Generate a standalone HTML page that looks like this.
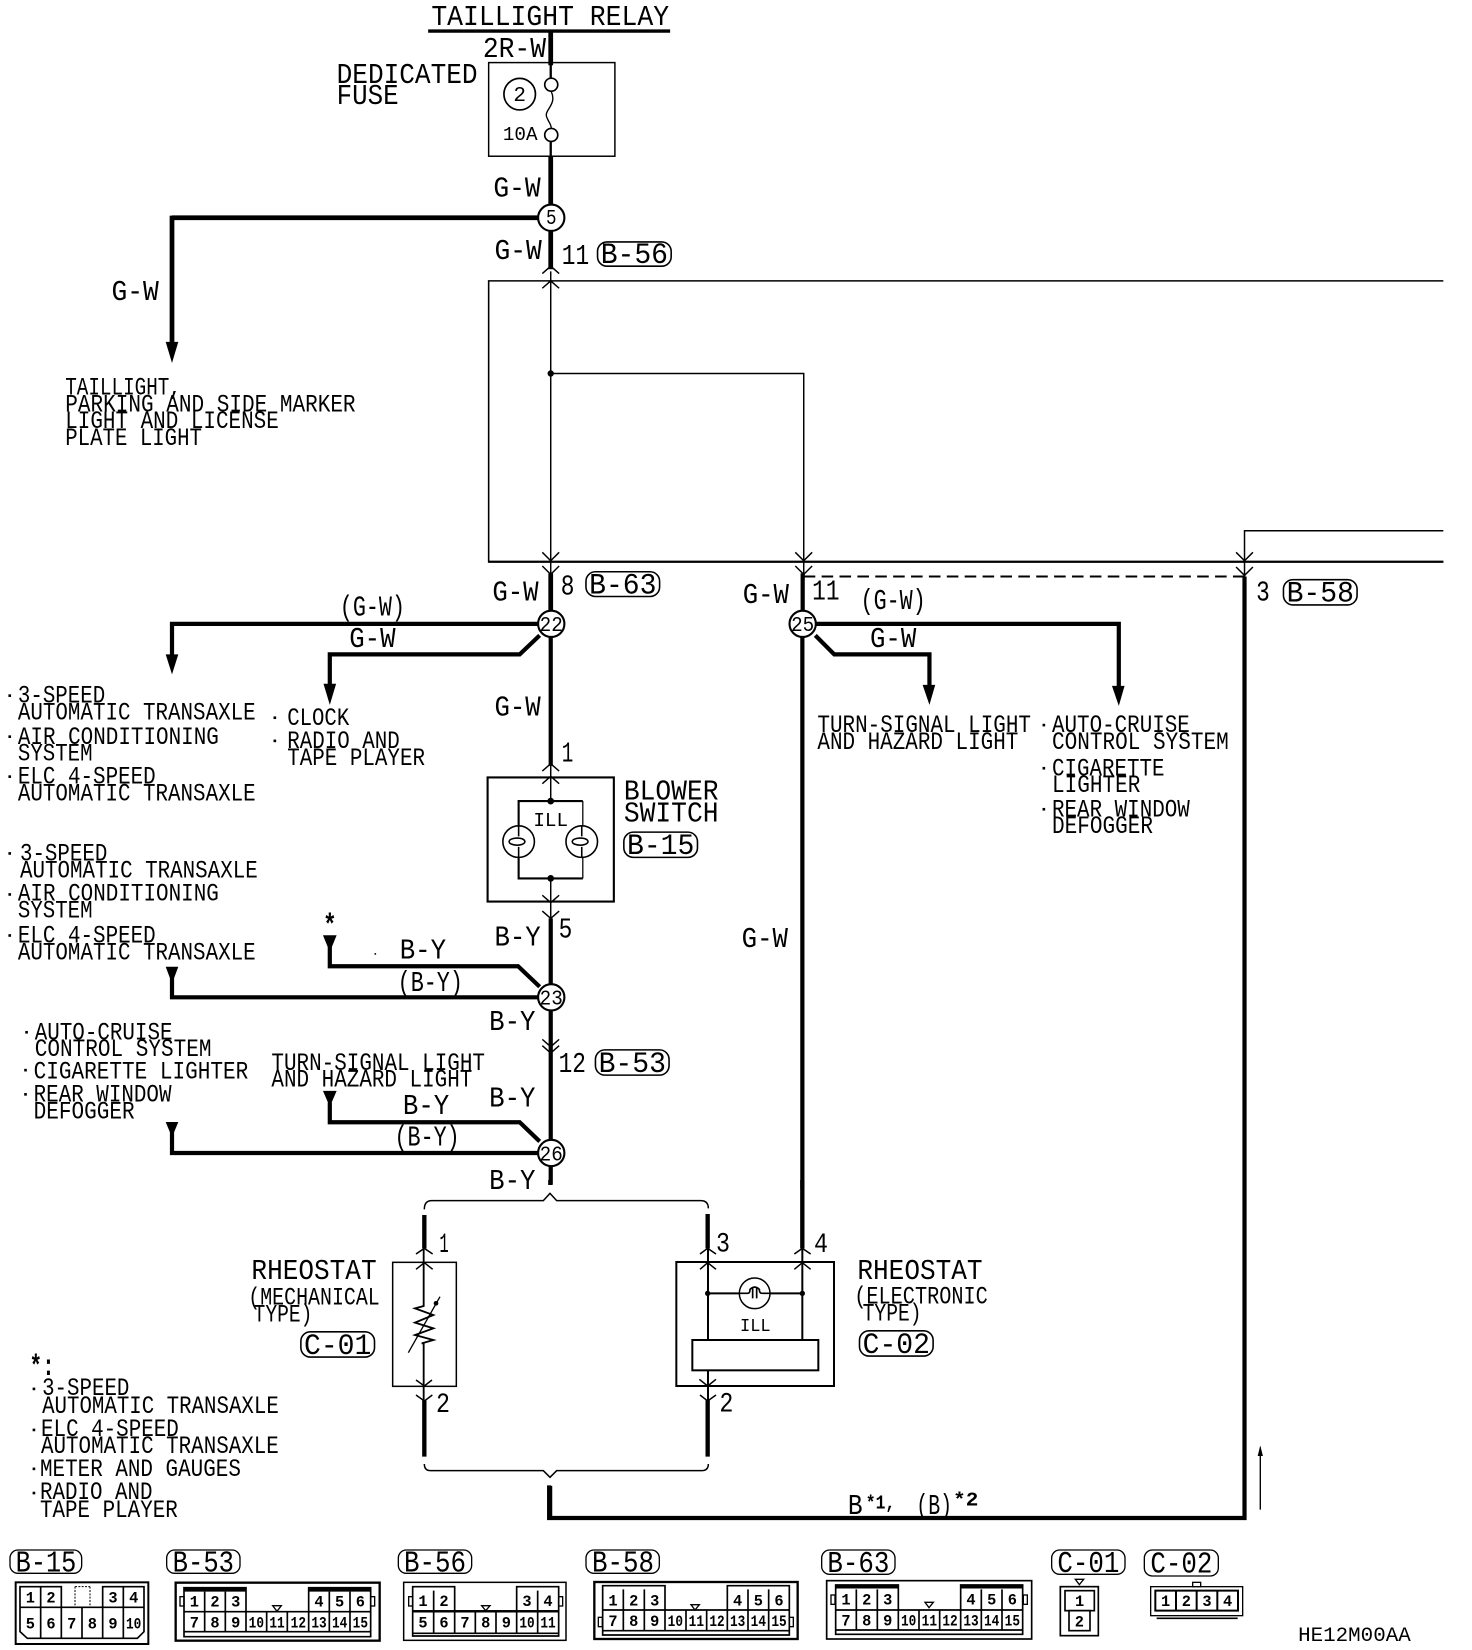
<!DOCTYPE html>
<html><head><meta charset="utf-8"><style>
html,body{margin:0;padding:0;background:#fff}
svg{display:block}
text{font-family:"Liberation Mono",monospace;fill:#000}
.t text{font-size:23.5px}
.b text{font-size:27px}
.p text{font-size:28px}
.n text{font-size:20px}
</style></head><body>
<svg xmlns="http://www.w3.org/2000/svg" width="1472" height="1650" viewBox="0 0 1472 1650">
<rect width="1472" height="1650" fill="#fff"/>
<g transform="scale(1.052)">
<g fill="none" stroke="#000" stroke-linejoin="miter">
<!-- title -->
<path d="M407 29.5H637" stroke-width="3.2"/>
<path d="M523.5 30V62M523.5 149V196M523.5 220V256M523.5 545V581M163.5 207H512M163.5 205V326" stroke-width="4.5"/>
<rect x="464.5" y="59.5" width="120" height="89" stroke-width="1.4"/>
<path d="M523.5 60V74M523.5 134V149" stroke-width="2.2"/>
<circle cx="524" cy="80.5" r="6.2" stroke-width="1.6"/><circle cx="524" cy="128.3" r="6.2" stroke-width="1.6"/>
<path d="M524 87C530 100 516 105 520 112C522 117 524 118 524 122" stroke-width="1.3"/>
<circle cx="494" cy="89.5" r="15" stroke-width="1.6"/>
<!-- big rect -->
<path d="M1372 267H464.5V534H1372" stroke-width="1.5"/>
<path d="M464 534H1372" stroke-width="2.2"/>
<path d="M523.5 258V546M523.5 355H764V546M1183 548V504.5H1372" stroke-width="1.4"/>
<path d="M515.5 260L523.5 253L531.5 260M515.5 274L523.5 267L531.5 274" stroke-width="1.4"/>
<path d="M515.5 525L523.5 533L531.5 525M515.5 538L523.5 546L531.5 538M756 525L764 533L772 525M756 538L764 546L772 538M1175 525L1183 533L1191 525M1175 539L1183 547L1191 539" stroke-width="1.4"/>
<path d="M764 548H1183" stroke-width="2" stroke-dasharray="11 6"/>
<!-- 22 branches -->
<path d="M523.5 606V728M163.5 593H512M163.5 591V624M513 604L494 622H313.5V652" stroke-width="4"/>
<!-- 25 branches -->
<path d="M763 545V581M762.7 606V1130M775 593H1063.5V654M775 604L793 622H883.5V652" stroke-width="4"/>
<!-- blower -->
<path d="M515.5 733L523.5 726L531.5 733M515.5 745L523.5 738L531.5 745" stroke-width="1.4"/>
<path d="M523.5 726V761M523.5 835V873" stroke-width="1.4"/>
<rect x="463.5" y="739" width="120" height="118" stroke-width="2"/>
<path d="M493 785V761.5H554M493 815V835H554" stroke-width="2"/>
<path d="M554 761.5V835" stroke-width="1.2"/>
<circle cx="493" cy="800" r="15" fill="#fff" stroke-width="1.5"/><circle cx="553" cy="800" r="15" fill="#fff" stroke-width="1.5"/>
<path d="M484 800C484 796 498 795 499 800C498 805 484 804 484 800ZM493 785V795M493 805V815M544 800C544 796 558 795 559 800C558 805 544 804 544 800ZM553 785V795M553 805V815" stroke-width="1.5"/>
<path d="M515.5 851L523.5 858L531.5 851M515.5 866L523.5 873L531.5 866" stroke-width="1.4"/>
<!-- B-Y -->
<path d="M523.5 873V935M523.5 961V1084M523.5 1109V1126M163.5 948H512M163.5 928V950M313.5 900V918.5H492.5L513 938M313.5 1048V1066.8H494L513 1085M163.5 1075V1096H512" stroke-width="4"/>
<path d="M515.5 988L523.5 995L531.5 988M515.5 994L523.5 1001L531.5 994" stroke-width="1.4"/>
<!-- bottom / right -->
<path d="M522 1412V1443H1183V548" stroke-width="4"/>
<path d="M1198 1376V1435" stroke-width="1.3"/>
<!-- node circles -->
<g fill="#fff" stroke-width="2">
<circle cx="524" cy="207" r="12.5"/><circle cx="524" cy="593" r="12.5"/><circle cx="763" cy="593" r="12.5"/><circle cx="524" cy="948" r="12.5"/><circle cx="524" cy="1096" r="12.5"/>
</g>
<!-- pills -->
<g stroke-width="1.5">
<rect x="568" y="230" width="70" height="23" rx="9"/>
<rect x="557" y="543.5" width="70" height="23.5" rx="9"/>
<rect x="1220" y="551" width="70" height="24" rx="9"/>
<rect x="593" y="791" width="70" height="24" rx="9"/>
<rect x="566" y="998" width="70" height="24" rx="9"/>
<rect x="286" y="1266" width="70" height="24" rx="9"/>
<rect x="817" y="1265" width="70" height="24" rx="9"/>
</g>
</g>
<!-- junction dots -->
<g fill="#000">
<circle cx="523.5" cy="355" r="3"/><circle cx="523.5" cy="761.5" r="3.2"/><circle cx="523.5" cy="835" r="3.2"/>
<rect x="356" y="906" width="1.5" height="1.5"/>
</g>
<!-- arrowheads -->
<g fill="#000">
<path d="M157.5 325H169.5L163.5 345Z"/>
<path d="M157.5 622H169.5L163.5 641Z"/>
<path d="M307.5 650H319.5L313.5 670Z"/>
<path d="M877 651H889L883.5 670Z"/>
<path d="M1057 652H1069L1063.5 671Z"/>
<path d="M157.5 919H169.5L163.5 935Z"/>
<path d="M307 889H320L313.5 905Z"/>
<path d="M307 1037H320L313.5 1052Z"/>
<path d="M157.5 1066.5H169.5L163.5 1081Z"/>
<path d="M1198 1374L1195.5 1384H1200.5Z"/>
</g>
<!-- bullets -->
<g fill="#000">
<rect x="8" y="660" width="2.5" height="2.5"/><rect x="8" y="699" width="2.5" height="2.5"/><rect x="8" y="737" width="2.5" height="2.5"/>
<rect x="8" y="810" width="2.5" height="2.5"/><rect x="8" y="849" width="2.5" height="2.5"/><rect x="8" y="888" width="2.5" height="2.5"/>
<rect x="260" y="681" width="2.5" height="2.5"/><rect x="260" y="703" width="2.5" height="2.5"/>
<rect x="991" y="688" width="2.5" height="2.5"/><rect x="991" y="729" width="2.5" height="2.5"/><rect x="991" y="768" width="2.5" height="2.5"/>
<rect x="24" y="980" width="2.5" height="2.5"/><rect x="23" y="1016" width="2.5" height="2.5"/><rect x="23" y="1039" width="2.5" height="2.5"/>
<rect x="31" y="1319" width="2.5" height="2.5"/><rect x="31" y="1358" width="2.5" height="2.5"/><rect x="31" y="1395" width="2.5" height="2.5"/><rect x="31" y="1418" width="2.5" height="2.5"/>
</g>
<!-- labels -->
<g class="b">
<text x="410" y="24" textLength="226" lengthAdjust="spacingAndGlyphs">TAILLIGHT RELAY</text>
<text x="459" y="54" textLength="60" lengthAdjust="spacingAndGlyphs">2R-W</text>
<text x="320" y="79" textLength="134" lengthAdjust="spacingAndGlyphs">DEDICATED</text>
<text x="320" y="99" textLength="59" lengthAdjust="spacingAndGlyphs">FUSE</text>
<text x="469" y="187" textLength="45" lengthAdjust="spacingAndGlyphs">G-W</text>
<text x="470" y="246" textLength="45" lengthAdjust="spacingAndGlyphs">G-W</text>
<text x="534" y="251" textLength="26" lengthAdjust="spacingAndGlyphs">11</text>
<text x="106" y="285" textLength="45" lengthAdjust="spacingAndGlyphs">G-W</text>
<text x="468" y="571" textLength="44" lengthAdjust="spacingAndGlyphs">G-W</text>
<text x="533" y="565" textLength="13" lengthAdjust="spacingAndGlyphs">8</text>
<text x="706" y="573" textLength="44" lengthAdjust="spacingAndGlyphs">G-W</text>
<text x="772" y="570" textLength="26" lengthAdjust="spacingAndGlyphs">11</text>
<text x="1194" y="571" textLength="13" lengthAdjust="spacingAndGlyphs">3</text>
<text x="323" y="585" textLength="62" lengthAdjust="spacingAndGlyphs">(G-W)</text>
<text x="332" y="615" textLength="44" lengthAdjust="spacingAndGlyphs">G-W</text>
<text x="818" y="579" textLength="62" lengthAdjust="spacingAndGlyphs">(G-W)</text>
<text x="827" y="615" textLength="44" lengthAdjust="spacingAndGlyphs">G-W</text>
<text x="470" y="680" textLength="44" lengthAdjust="spacingAndGlyphs">G-W</text>
<text x="534" y="724" textLength="11" lengthAdjust="spacingAndGlyphs">1</text>
<text x="593" y="760" textLength="90" lengthAdjust="spacingAndGlyphs">BLOWER</text>
<text x="593" y="781" textLength="90" lengthAdjust="spacingAndGlyphs">SWITCH</text>
<text x="705" y="900" textLength="44" lengthAdjust="spacingAndGlyphs">G-W</text>
<text x="470" y="899" textLength="44" lengthAdjust="spacingAndGlyphs">B-Y</text>
<text x="531" y="891" textLength="13" lengthAdjust="spacingAndGlyphs">5</text>
<text x="380" y="911" textLength="44" lengthAdjust="spacingAndGlyphs">B-Y</text>
<text x="378" y="942" textLength="62" lengthAdjust="spacingAndGlyphs">(B-Y)</text>
<text x="465" y="979" textLength="44" lengthAdjust="spacingAndGlyphs">B-Y</text>
<text x="531" y="1019" textLength="26" lengthAdjust="spacingAndGlyphs">12</text>
<text x="465" y="1052" textLength="44" lengthAdjust="spacingAndGlyphs">B-Y</text>
<text x="383" y="1059" textLength="44" lengthAdjust="spacingAndGlyphs">B-Y</text>
<text x="375" y="1089" textLength="62" lengthAdjust="spacingAndGlyphs">(B-Y)</text>
<text x="465" y="1130" textLength="44" lengthAdjust="spacingAndGlyphs">B-Y</text>
<text x="239" y="1216" textLength="119" lengthAdjust="spacingAndGlyphs">RHEOSTAT</text>
<text x="815" y="1216" textLength="119" lengthAdjust="spacingAndGlyphs">RHEOSTAT</text>
<text x="806" y="1439" textLength="14" lengthAdjust="spacingAndGlyphs">B</text>
<text x="871" y="1439" textLength="34" lengthAdjust="spacingAndGlyphs">(B)</text>
</g>
<g class="p">
<text x="571" y="250" textLength="64" lengthAdjust="spacingAndGlyphs">B-56</text>
<text x="560" y="564" textLength="64" lengthAdjust="spacingAndGlyphs">B-63</text>
<text x="1223" y="572" textLength="64" lengthAdjust="spacingAndGlyphs">B-58</text>
<text x="596" y="812" textLength="64" lengthAdjust="spacingAndGlyphs">B-15</text>
<text x="569" y="1019" textLength="64" lengthAdjust="spacingAndGlyphs">B-53</text>
<text x="289" y="1287" textLength="64" lengthAdjust="spacingAndGlyphs">C-01</text>
<text x="820" y="1286" textLength="64" lengthAdjust="spacingAndGlyphs">C-02</text>
</g>
<g class="t">
<text x="62" y="375" textLength="110" lengthAdjust="spacingAndGlyphs">TAILLIGHT,</text>
<text x="62" y="391" textLength="276" lengthAdjust="spacingAndGlyphs">PARKING AND SIDE MARKER</text>
<text x="62" y="407" textLength="203" lengthAdjust="spacingAndGlyphs">LIGHT AND LICENSE</text>
<text x="62" y="423" textLength="130" lengthAdjust="spacingAndGlyphs">PLATE LIGHT</text>
<text x="17" y="668" textLength="83" lengthAdjust="spacingAndGlyphs">3-SPEED</text>
<text x="17" y="684" textLength="226" lengthAdjust="spacingAndGlyphs">AUTOMATIC TRANSAXLE</text>
<text x="17" y="707" textLength="191" lengthAdjust="spacingAndGlyphs">AIR CONDITIONING</text>
<text x="17" y="723" textLength="71" lengthAdjust="spacingAndGlyphs">SYSTEM</text>
<text x="17" y="745" textLength="131" lengthAdjust="spacingAndGlyphs">ELC 4-SPEED</text>
<text x="17" y="761" textLength="226" lengthAdjust="spacingAndGlyphs">AUTOMATIC TRANSAXLE</text>
<text x="273" y="689" textLength="59" lengthAdjust="spacingAndGlyphs">CLOCK</text>
<text x="273" y="711" textLength="107" lengthAdjust="spacingAndGlyphs">RADIO AND</text>
<text x="273" y="727" textLength="131" lengthAdjust="spacingAndGlyphs">TAPE PLAYER</text>
<text x="777" y="696" textLength="203" lengthAdjust="spacingAndGlyphs">TURN-SIGNAL LIGHT</text>
<text x="777" y="712" textLength="191" lengthAdjust="spacingAndGlyphs">AND HAZARD LIGHT</text>
<text x="1000" y="696" textLength="131" lengthAdjust="spacingAndGlyphs">AUTO-CRUISE</text>
<text x="1000" y="712" textLength="168" lengthAdjust="spacingAndGlyphs">CONTROL SYSTEM</text>
<text x="1000" y="737" textLength="107" lengthAdjust="spacingAndGlyphs">CIGARETTE</text>
<text x="1000" y="753" textLength="84" lengthAdjust="spacingAndGlyphs">LIGHTER</text>
<text x="1000" y="776" textLength="131" lengthAdjust="spacingAndGlyphs">REAR WINDOW</text>
<text x="1000" y="792" textLength="96" lengthAdjust="spacingAndGlyphs">DEFOGGER</text>
<text x="19" y="818" textLength="83" lengthAdjust="spacingAndGlyphs">3-SPEED</text>
<text x="19" y="834" textLength="226" lengthAdjust="spacingAndGlyphs">AUTOMATIC TRANSAXLE</text>
<text x="17" y="856" textLength="191" lengthAdjust="spacingAndGlyphs">AIR CONDITIONING</text>
<text x="17" y="872" textLength="71" lengthAdjust="spacingAndGlyphs">SYSTEM</text>
<text x="17" y="896" textLength="131" lengthAdjust="spacingAndGlyphs">ELC 4-SPEED</text>
<text x="17" y="912" textLength="226" lengthAdjust="spacingAndGlyphs">AUTOMATIC TRANSAXLE</text>
<text x="33" y="988" textLength="131" lengthAdjust="spacingAndGlyphs">AUTO-CRUISE</text>
<text x="33" y="1004" textLength="168" lengthAdjust="spacingAndGlyphs">CONTROL SYSTEM</text>
<text x="32" y="1025" textLength="204" lengthAdjust="spacingAndGlyphs">CIGARETTE LIGHTER</text>
<text x="32" y="1047" textLength="131" lengthAdjust="spacingAndGlyphs">REAR WINDOW</text>
<text x="32" y="1063" textLength="96" lengthAdjust="spacingAndGlyphs">DEFOGGER</text>
<text x="258" y="1017" textLength="203" lengthAdjust="spacingAndGlyphs">TURN-SIGNAL LIGHT</text>
<text x="258" y="1033" textLength="191" lengthAdjust="spacingAndGlyphs">AND HAZARD LIGHT</text>
<text x="236" y="1240" textLength="125" lengthAdjust="spacingAndGlyphs">(MECHANICAL</text>
<text x="241" y="1256" textLength="56" lengthAdjust="spacingAndGlyphs">TYPE)</text>
<text x="812" y="1239" textLength="127" lengthAdjust="spacingAndGlyphs">(ELECTRONIC</text>
<text x="820" y="1255" textLength="56" lengthAdjust="spacingAndGlyphs">TYPE)</text>
<text x="28" y="1307" textLength="24" style="font-size:28px;font-weight:bold" lengthAdjust="spacingAndGlyphs">*:</text>
<text x="40" y="1326" textLength="83" lengthAdjust="spacingAndGlyphs">3-SPEED</text>
<text x="40" y="1343" textLength="225" lengthAdjust="spacingAndGlyphs">AUTOMATIC TRANSAXLE</text>
<text x="39" y="1365" textLength="131" lengthAdjust="spacingAndGlyphs">ELC 4-SPEED</text>
<text x="39" y="1381" textLength="226" lengthAdjust="spacingAndGlyphs">AUTOMATIC TRANSAXLE</text>
<text x="38" y="1403" textLength="191" lengthAdjust="spacingAndGlyphs">METER AND GAUGES</text>
<text x="38" y="1425" textLength="107" lengthAdjust="spacingAndGlyphs">RADIO AND</text>
<text x="38" y="1442" textLength="131" lengthAdjust="spacingAndGlyphs">TAPE PLAYER</text>
<text x="307" y="888" textLength="13" style="font-size:28px;font-weight:bold" lengthAdjust="spacingAndGlyphs">*</text>
<text x="823" y="1434" style="font-size:18px;font-weight:bold" textLength="28" lengthAdjust="spacingAndGlyphs">*1,</text>
<text x="906" y="1431" style="font-size:18px;font-weight:bold" textLength="24" lengthAdjust="spacingAndGlyphs">*2</text>
<text x="507" y="785" textLength="33" style="font-size:18px" lengthAdjust="spacingAndGlyphs">ILL</text>
<text x="478" y="133" textLength="33" style="font-size:18px" lengthAdjust="spacingAndGlyphs">10A</text>
<text x="488" y="96" textLength="12" style="font-size:20px" lengthAdjust="spacingAndGlyphs">2</text>
<text x="1234" y="1560" textLength="107" style="font-size:19px" lengthAdjust="spacingAndGlyphs">HE12M00AA</text>
</g>
<g class="n" text-anchor="middle">
<text x="524" y="213" textLength="10" lengthAdjust="spacingAndGlyphs">5</text>
<text x="524" y="600" textLength="22" lengthAdjust="spacingAndGlyphs">22</text>
<text x="763" y="600" textLength="22" lengthAdjust="spacingAndGlyphs">25</text>
<text x="524" y="955" textLength="22" lengthAdjust="spacingAndGlyphs">23</text>
<text x="524" y="1103" textLength="22" lengthAdjust="spacingAndGlyphs">26</text>
</g>
</g>

<!-- rheostats, zoom coordinates -->
<g transform="translate(380,1180) scale(.33333)" fill="none" stroke="#000">
<path d="M133 88Q133 62 155 62H490L510 40L530 62H962Q985 62 985 85" stroke-width="4.5"/>
<path d="M133 852Q133 872 152 872H490L510 892L530 872H965Q985 872 985 852" stroke-width="4.5"/>
<path d="M511 0V15M133 105V205M133 660V830M983 102V205M983 660V830M1267 0V205" stroke-width="13"/>
<path d="M108 222L133 205L158 222M108 268L133 248L158 268M108 600L133 618L156 600M108 645L133 663L157 645M960 222L983 205L1008 222M960 268L983 248L1008 268M958 598L983 618L1008 598M960 645L983 663L1008 645M1243 222L1267 205L1292 222M1243 268L1267 248L1292 268" stroke-width="4.5"/>
<rect x="38" y="247" width="191" height="372" stroke-width="4.5"/>
<path d="M131 205V378L105 385L160 405L105 428L160 445L105 465L160 480L125 490H131V663" stroke-width="5.5"/>
<path d="M85 518L180 350" stroke-width="4"/>
<circle cx="168" cy="370" r="7" fill="#000" stroke="none"/>
<rect x="889" y="246" width="473" height="372" stroke-width="6"/>
<path d="M984 205V480M1267 205V480M983 340H1267M984 571V663" stroke-width="6"/>
<circle cx="1124" cy="340" r="46" fill="#fff" stroke-width="4.5"/>
<path d="M1078 340H1103Q1110 340 1110 328Q1124 315 1138 328Q1138 340 1146 340H1172M1118 325V355M1130 325V355" stroke-width="5"/>
<circle cx="983" cy="340" r="8" fill="#000" stroke="none"/><circle cx="1267" cy="340" r="8" fill="#000" stroke="none"/>
<rect x="937" y="480" width="378" height="91" fill="#fff" stroke-width="6"/>
<path d="M984 571V663" stroke-width="6"/>
<text x="1080" y="453" textLength="92" lengthAdjust="spacingAndGlyphs" style="font-size:56px" stroke="none">ILL</text>
<text x="178" y="216" textLength="28" lengthAdjust="spacingAndGlyphs" style="font-size:84px" stroke="none">1</text>
<text x="168" y="696" textLength="42" lengthAdjust="spacingAndGlyphs" style="font-size:84px" stroke="none">2</text>
<text x="1008" y="214" textLength="42" lengthAdjust="spacingAndGlyphs" style="font-size:84px" stroke="none">3</text>
<text x="1302" y="216" textLength="42" lengthAdjust="spacingAndGlyphs" style="font-size:84px" stroke="none">4</text>
<text x="1018" y="694" textLength="42" lengthAdjust="spacingAndGlyphs" style="font-size:84px" stroke="none">2</text>
</g>
<!-- stub down to the main bottom line -->
<path d="M550 1486V1520" stroke="#000" stroke-width="4.5" fill="none"/>

<!-- connector row A -->
<g transform="translate(0,1540) scale(.33333)" fill="none" stroke="#000" font-size="46" font-weight="bold" text-anchor="middle">
<rect x="30" y="30" width="215" height="70" rx="24" stroke-width="4"/>
<rect x="500" y="30" width="220" height="70" rx="24" stroke-width="4"/>
<rect x="47" y="127" width="398" height="185" stroke-width="6"/>
<path d="M60 140H184V202H60ZM122 140V202M308 140H432V202H308ZM370 140V202M60 202H432V275L412 295H82L60 275ZM122 202V295M184 202V295M246 202V295M308 202V295M370 202V295" stroke-width="5"/>
<path d="M225 140V202M270 140V202M225 140H270" stroke-width="3" stroke-dasharray="6 4"/>
<rect x="527" y="128" width="612" height="174" stroke-width="7"/>
<path d="M552 143H738V215H552ZM926 143H1112V215H926ZM614 155V275M676 155V275M738 215V275M800 215V275M862 215V275M926 155V275M988 155V275M1050 155V275M552 215H1112V290H552ZM552 275H1112" stroke-width="5"/>
<path d="M552 149H738M926 149H1112" stroke-width="12"/>
<rect x="540" y="170" width="12" height="28" stroke-width="4"/><rect x="1112" y="170" width="12" height="28" stroke-width="4"/>
<path d="M818 197H844L831 214Z" stroke-width="4"/>
<g fill="#000" stroke="none">
<text x="91" y="188">1</text><text x="153" y="188">2</text><text x="339" y="188">3</text><text x="401" y="188">4</text>
<text x="91" y="266">5</text><text x="153" y="266">6</text><text x="215" y="266">7</text><text x="277" y="266">8</text><text x="339" y="266">9</text><text x="401" y="266" textLength="46" lengthAdjust="spacingAndGlyphs">10</text>
<text x="583" y="200">1</text><text x="645" y="200">2</text><text x="707" y="200">3</text><text x="957" y="200">4</text><text x="1019" y="200">5</text><text x="1081" y="200">6</text>
<text x="583" y="262">7</text><text x="645" y="262">8</text><text x="707" y="262">9</text><text x="769" y="262" textLength="46" lengthAdjust="spacingAndGlyphs">10</text><text x="831" y="262" textLength="46" lengthAdjust="spacingAndGlyphs">11</text><text x="895" y="262" textLength="46" lengthAdjust="spacingAndGlyphs">12</text><text x="957" y="262" textLength="46" lengthAdjust="spacingAndGlyphs">13</text><text x="1019" y="262" textLength="46" lengthAdjust="spacingAndGlyphs">14</text><text x="1081" y="262" textLength="46" lengthAdjust="spacingAndGlyphs">15</text>
<g font-size="92" font-weight="normal" text-anchor="start">
<text x="47" y="94" textLength="182" lengthAdjust="spacingAndGlyphs">B-15</text>
<text x="518" y="94" textLength="184" lengthAdjust="spacingAndGlyphs">B-53</text>
</g>
</g>
</g>

<!-- connector row B -->
<g transform="translate(400,1540) scale(.33333)" fill="none" stroke="#000" font-size="46" font-weight="bold" text-anchor="middle">
<rect x="-5" y="30" width="220" height="70" rx="24" stroke-width="4"/>
<rect x="558" y="30" width="220" height="70" rx="24" stroke-width="4"/>
<rect x="11" y="127" width="487" height="174" stroke-width="4.5"/>
<path d="M38 140H164V213H38ZM350 140H476V213H350ZM101 152V280M413 152V280M38 213H476V288H38ZM38 280H476M164 213V280M226 213V280M288 213V280M350 213V280" stroke-width="5"/>
<rect x="26" y="170" width="12" height="28" stroke-width="4"/><rect x="476" y="170" width="12" height="28" stroke-width="4"/>
<path d="M245 197H270L257 212Z" stroke-width="4"/>
<path d="M38 214H476" stroke-width="7"/>
<rect x="583" y="126" width="610" height="171" stroke-width="7"/>
<path d="M608 137H795V210H608ZM982 137H1168V210H982ZM670 148V272M733 148V272M795 210V272M858 210V272M920 210V272M982 148V272M1044 148V272M1106 148V272M608 210H1168V285H608ZM608 272H1168" stroke-width="5"/>
<rect x="595" y="232" width="12" height="28" stroke-width="4"/><rect x="1168" y="232" width="12" height="28" stroke-width="4"/>
<path d="M873 194H898L885 210Z" stroke-width="4"/>
<g fill="#000" stroke="none">
<text x="69" y="198">1</text><text x="132" y="198">2</text><text x="381" y="198">3</text><text x="444" y="198">4</text>
<text x="69" y="262">5</text><text x="132" y="262">6</text><text x="195" y="262">7</text><text x="257" y="262">8</text><text x="319" y="262">9</text><text x="381" y="262" textLength="46" lengthAdjust="spacingAndGlyphs">10</text><text x="444" y="262" textLength="46" lengthAdjust="spacingAndGlyphs">11</text>
<text x="639" y="197">1</text><text x="701" y="197">2</text><text x="764" y="197">3</text><text x="1013" y="197">4</text><text x="1075" y="197">5</text><text x="1137" y="197">6</text>
<text x="639" y="258">7</text><text x="701" y="258">8</text><text x="764" y="258">9</text><text x="826" y="258" textLength="46" lengthAdjust="spacingAndGlyphs">10</text><text x="889" y="258" textLength="46" lengthAdjust="spacingAndGlyphs">11</text><text x="951" y="258" textLength="46" lengthAdjust="spacingAndGlyphs">12</text><text x="1013" y="258" textLength="46" lengthAdjust="spacingAndGlyphs">13</text><text x="1075" y="258" textLength="46" lengthAdjust="spacingAndGlyphs">14</text><text x="1137" y="258" textLength="46" lengthAdjust="spacingAndGlyphs">15</text>
<g font-size="92" font-weight="normal" text-anchor="start">
<text x="12" y="94" textLength="186" lengthAdjust="spacingAndGlyphs">B-56</text>
<text x="576" y="94" textLength="186" lengthAdjust="spacingAndGlyphs">B-58</text>
</g>
</g>
</g>

<!-- connector row C -->
<g transform="translate(810,1540) scale(.33333)" fill="none" stroke="#000" font-size="46" font-weight="bold" text-anchor="middle">
<rect x="35" y="30" width="220" height="73" rx="24" stroke-width="4"/>
<rect x="725" y="30" width="220" height="73" rx="24" stroke-width="4"/>
<rect x="1003" y="30" width="222" height="78" rx="24" stroke-width="4"/>
<rect x="50" y="122" width="615" height="175" stroke-width="5"/>
<path d="M77 135H265V210H77ZM452 135H638V210H452ZM139 148V270M202 148V270M265 210V270M327 210V270M389 210V270M452 148V270M514 148V270M576 148V270M77 210H638V283H77ZM77 270H638" stroke-width="5"/>
<path d="M77 141H265M452 141H638" stroke-width="9"/>
<rect x="63" y="165" width="12" height="28" stroke-width="4"/><rect x="640" y="165" width="12" height="28" stroke-width="4"/>
<path d="M345 187H370L357 203Z" stroke-width="4"/>
<rect x="751" y="140" width="114" height="147" stroke-width="5"/>
<rect x="765" y="152" width="88" height="60" stroke-width="5"/>
<rect x="777" y="212" width="63" height="60" stroke-width="5"/>
<path d="M796 118H821L808 134Z" stroke-width="4"/>
<rect x="1022" y="140" width="276" height="87" stroke-width="4"/>
<path d="M1036 152H1284V212H1036ZM1098 152V212M1160 152V212M1222 152V212" stroke-width="6"/>
<path d="M1040 235H1283" stroke-width="5"/>
<rect x="1148" y="127" width="24" height="13" stroke-width="4"/>
<g fill="#000" stroke="none">
<text x="108" y="194">1</text><text x="170" y="194">2</text><text x="233" y="194">3</text><text x="483" y="194">4</text><text x="545" y="194">5</text><text x="607" y="194">6</text>
<text x="108" y="256">7</text><text x="170" y="256">8</text><text x="233" y="256">9</text><text x="296" y="256" textLength="46" lengthAdjust="spacingAndGlyphs">10</text><text x="358" y="256" textLength="46" lengthAdjust="spacingAndGlyphs">11</text><text x="420" y="256" textLength="46" lengthAdjust="spacingAndGlyphs">12</text><text x="483" y="256" textLength="46" lengthAdjust="spacingAndGlyphs">13</text><text x="545" y="256" textLength="46" lengthAdjust="spacingAndGlyphs">14</text><text x="607" y="256" textLength="46" lengthAdjust="spacingAndGlyphs">15</text>
<text x="809" y="198">1</text><text x="808" y="260">2</text>
<text x="1067" y="198">1</text><text x="1129" y="198">2</text><text x="1191" y="198">3</text><text x="1253" y="198">4</text>
<g font-size="92" font-weight="normal" text-anchor="start">
<text x="52" y="96" textLength="186" lengthAdjust="spacingAndGlyphs">B-63</text>
<text x="742" y="96" textLength="186" lengthAdjust="spacingAndGlyphs">C-01</text>
<text x="1021" y="98" textLength="186" lengthAdjust="spacingAndGlyphs">C-02</text>
</g>
</g>
</g>
</svg>
</body></html>
